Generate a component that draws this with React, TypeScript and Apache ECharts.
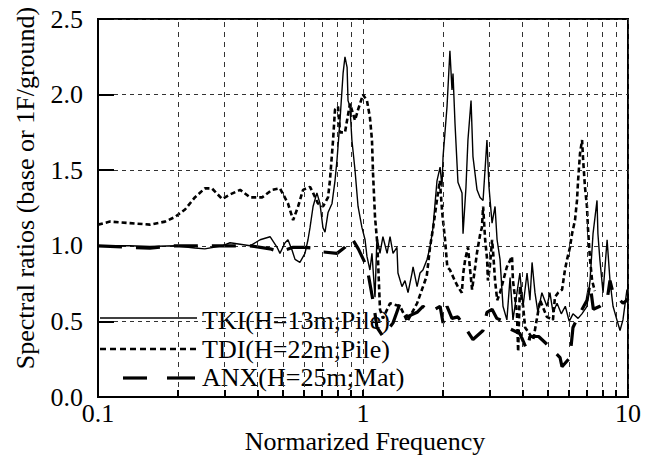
import React, { useEffect, useRef } from "react";
import * as echarts from "echarts";

const FONT = "Liberation Serif";

const tkiFreq = [0.1,0.132,0.157,0.195,0.232,0.253,0.294,0.315,0.344,0.375,0.409,0.446,0.474,0.486,0.508,0.521,0.540,0.554,0.578,0.604,0.620,0.631,0.648,0.670,0.688,0.706,0.719,0.738,0.764,0.784,0.798,0.819,0.841,0.855,0.871,0.878,0.893,0.908,0.933,0.958,0.991,1.018,1.035,1.062,1.081,1.11,1.129,1.159,1.189,1.233,1.265,1.298,1.343,1.355,1.403,1.44,1.479,1.531,1.545,1.60,1.641,1.683,1.744,1.79,1.837,1.902,1.954,1.987,2.005,2.075,2.128,2.167,2.186,2.224,2.282,2.364,2.385,2.447,2.489,2.557,2.60,2.693,2.765,2.838,2.936,2.988,3.069,3.15,3.206,3.289,3.375,3.491,3.589,3.681,3.811,3.908,4.018,4.159,4.266,4.345,4.456,4.571,4.732,4.943,5.075,5.212,5.4,5.6,5.8,6.0,6.2,6.48,6.7,7.0,7.19,7.38,7.64,7.70,7.83,8.05,8.34,8.55,8.78,9.08,9.33,9.57,9.91,10];
const tkiRatio = [1.0,1.0,0.995,1.0,0.985,0.98,1.0,1.02,1.01,1.0,1.04,1.06,0.99,0.95,1.02,1.04,0.97,0.91,0.89,0.95,1.04,1.12,1.26,1.35,1.28,1.12,1.09,1.22,1.28,1.43,1.57,1.83,2.14,2.25,2.18,1.96,1.92,1.70,1.50,1.26,1.12,1.04,0.93,0.84,0.95,0.66,1.06,0.95,1.06,0.95,1.06,0.95,0.99,0.82,0.73,0.77,0.69,0.82,0.86,0.73,0.82,0.84,0.91,0.99,1.12,1.43,1.52,1.39,1.59,1.92,2.29,2.03,2.14,1.81,1.42,1.35,1.08,1.39,1.70,1.96,1.59,1.37,1.32,1.30,1.70,1.39,1.15,1.26,1.04,0.91,0.60,0.51,0.79,0.51,0.69,0.82,0.60,0.82,0.64,0.89,0.69,0.56,0.69,0.60,0.69,0.56,0.62,0.55,0.60,0.50,0.55,0.52,0.55,0.60,0.77,1.08,1.30,1.08,0.91,0.69,1.04,0.77,0.60,0.51,0.44,0.51,0.71,0.68];

const tdiFreq = [0.1,0.111,0.132,0.157,0.179,0.195,0.213,0.232,0.253,0.269,0.294,0.315,0.344,0.375,0.416,0.454,0.486,0.521,0.545,0.569,0.594,0.631,0.648,0.676,0.706,0.738,0.750,0.771,0.784,0.805,0.819,0.855,0.893,0.933,0.958,1.0,1.035,1.062,1.081,1.091,1.110,1.129,1.139,1.159,1.189,1.265,1.38,1.47,1.6,1.74,1.79,1.84,1.90,1.95,1.99,2.04,2.08,2.13,2.22,2.28,2.36,2.39,2.43,2.49,2.53,2.58,2.65,2.69,2.77,2.81,2.84,2.89,2.94,2.96,3.01,3.07,3.10,3.15,3.21,3.29,3.49,3.65,3.68,3.81,3.85,3.91,4.02,4.09,4.39,4.66,4.94,5.21,5.30,5.45,5.64,5.78,5.89,6.04,6.15,6.31,6.42,6.48,6.59,6.71,6.77,6.88,7.0,7.06,7.19,7.32,7.5];
const tdiRatio = [1.14,1.16,1.15,1.14,1.16,1.19,1.24,1.32,1.38,1.38,1.31,1.34,1.37,1.32,1.32,1.37,1.38,1.28,1.17,1.26,1.37,1.39,1.35,1.28,1.26,1.32,1.43,1.70,1.90,1.92,1.75,1.75,1.94,1.83,1.90,2.0,1.96,1.85,1.70,1.48,1.19,1.04,0.91,0.58,0.52,0.62,0.60,0.50,0.62,0.80,0.99,1.12,1.30,1.43,1.22,1.04,0.86,0.84,0.77,0.73,0.69,0.82,0.91,0.99,0.86,0.71,0.86,0.95,1.08,1.12,1.26,1.04,0.91,0.77,0.86,1.04,0.95,0.77,0.64,0.69,0.86,0.93,0.77,0.56,0.30,0.73,0.60,0.46,0.38,0.64,0.53,0.51,0.66,0.69,0.71,0.84,0.91,0.99,1.08,1.17,1.30,1.43,1.61,1.70,1.57,1.39,1.26,1.12,0.91,0.77,0.70];

const anxFreq = [0.1,0.132,0.157,0.195,0.253,0.315,0.375,0.446,0.486,0.545,0.60,0.648,0.70,0.798,0.855,0.908,0.96,1.035,1.10,1.129,1.189,1.298,1.38,1.466,1.6,1.683,1.79,1.954,2.005,2.075,2.167,2.28,2.43,2.6,2.838,2.936,3.069,3.2,3.4,3.6,3.908,4.159,4.266,4.6,5.075,5.541,5.636,6.039,6.2,6.477,7.004,7.189,7.4,7.834,8.337,8.551,8.777,9.573,9.911,10];
const anxRatio = [1.0,0.99,0.985,1.0,1.0,1.0,1.0,0.98,0.96,0.99,0.99,0.985,0.96,0.95,0.99,1.05,0.98,0.86,0.60,0.46,0.40,0.49,0.62,0.53,0.56,0.60,0.56,0.60,0.49,0.60,0.52,0.53,0.46,0.38,0.44,0.56,0.58,0.52,0.50,0.45,0.42,0.31,0.40,0.40,0.33,0.26,0.20,0.26,0.46,0.53,0.64,0.75,0.58,0.60,0.64,0.77,0.69,0.62,0.64,0.65];

const minorFreqs = [0.2,0.3,0.4,0.5,0.6,0.7,0.8,0.9,2,3,4,5,6,7,8,9];
const legendNames = ["TKI(H=13m;Pile)", "TDI(H=22m;Pile)", "ANX(H=25m;Mat)"];
const yTitle = "Spectral ratios (base or 1F/ground)";
const xTitle = "Normarized Frequency";

const pairs = (xs: number[], ys: number[]) => xs.map((x, i) => [x, ys[i]]);

export default function App() {
  const ref = useRef<HTMLDivElement>(null);
  useEffect(() => {
    if (!ref.current) return;
    const chart = echarts.init(ref.current, null, { renderer: "svg" });
    const gridLines: any[] = [];
    minorFreqs.forEach((f) => {
      gridLines.push([
        { coord: [f, 0], lineStyle: { type: [5, 5], color: "#333", width: 1 } },
        { coord: [f, 2.5] },
      ]);
      gridLines.push([
        { coord: [f, 0], lineStyle: { type: "solid", color: "#000", width: 2 } },
        { coord: [f, 0.047] },
      ]);
    });
    const legendY = [318, 349, 378];
    chart.setOption({
      animation: false,
      textStyle: { fontFamily: FONT },
      grid: {
        left: 98, top: 19, width: 530, height: 378,
        show: true, borderColor: "#000", borderWidth: 2, backgroundColor: "transparent",
      },
      xAxis: {
        type: "log", logBase: 10, min: 0.1, max: 10,
        axisLine: { show: true, lineStyle: { color: "#000", width: 2 } },
        axisTick: { show: true, inside: true, length: 7, lineStyle: { color: "#000", width: 2 } },
        minorTick: { show: false },
        splitLine: { show: true, lineStyle: { type: [5, 5], color: "#333", width: 1 } },
        axisLabel: {
          color: "#000", fontSize: 26, fontFamily: FONT, margin: 3,
          formatter: (v: number) => (v < 1 ? String(v) : String(Math.round(v))),
        },
      },
      yAxis: {
        type: "value", min: 0, max: 2.5, interval: 0.5,
        axisLine: { show: true, lineStyle: { color: "#000", width: 2 } },
        axisTick: { show: true, inside: true, length: 16, lineStyle: { color: "#000", width: 2 } },
        splitLine: { show: true, lineStyle: { type: [4, 4], color: "#333", width: 1 } },
        axisLabel: {
          color: "#000", fontSize: 26, fontFamily: FONT, margin: 15,
          padding: [0, 0, 6, 0],
          formatter: (v: number) => v.toFixed(1),
        },
      },
      series: [
        {
          name: legendNames[0], type: "line", data: pairs(tkiFreq, tkiRatio),
          showSymbol: false, symbol: "none", z: 5,
          lineStyle: { color: "#000", width: 1.4 },
          markLine: {
            silent: true, symbol: "none", label: { show: false }, animation: false,
            data: gridLines,
          },
        },
        {
          name: legendNames[1], type: "line", data: pairs(tdiFreq, tdiRatio),
          showSymbol: false, symbol: "none", z: 4,
          lineStyle: { color: "#000", width: 2.6, type: [5, 3] },
        },
        {
          name: legendNames[2], type: "line", data: pairs(anxFreq, anxRatio),
          showSymbol: false, symbol: "none", z: 3,
          lineStyle: { color: "#000", width: 3.2, type: [24, 14] },
        },
      ],
      graphic: [
        {
          type: "text", x: 25, y: 188, rotation: Math.PI / 2,
          style: {
            text: yTitle, fill: "#000", fontSize: 26, fontFamily: FONT,
            textAlign: "center", textVerticalAlign: "middle",
          },
        },
        {
          type: "text", x: 365, y: 441,
          style: {
            text: xTitle, fill: "#000", fontSize: 26, fontFamily: FONT,
            textAlign: "center", textVerticalAlign: "middle",
          },
        },
        { type: "line", shape: { x1: 100, y1: legendY[0], x2: 197, y2: legendY[0] }, style: { stroke: "#000", lineWidth: 1.5 } },
        { type: "line", shape: { x1: 100, y1: legendY[1], x2: 197, y2: legendY[1] }, style: { stroke: "#000", lineWidth: 2.6, lineDash: [6, 4] } },
        { type: "line", shape: { x1: 123, y1: legendY[2], x2: 147, y2: legendY[2] }, style: { stroke: "#000", lineWidth: 3.2 } },
        { type: "line", shape: { x1: 167, y1: legendY[2], x2: 195, y2: legendY[2] }, style: { stroke: "#000", lineWidth: 3.2 } },
        ...legendNames.map((n, i) => ({
          type: "text", x: 202, y: [320, 349, 377][i],
          style: {
            text: n, fill: "#000", fontSize: 26, fontFamily: FONT,
            textAlign: "left", textVerticalAlign: "middle",
          },
        })),
      ],
    });
    return () => chart.dispose();
  }, []);
  return (
    <div
      ref={ref}
      style={{ position: "absolute", left: 0, top: 0, width: 659, height: 459, background: "#fff" }}
    />
  );
}
